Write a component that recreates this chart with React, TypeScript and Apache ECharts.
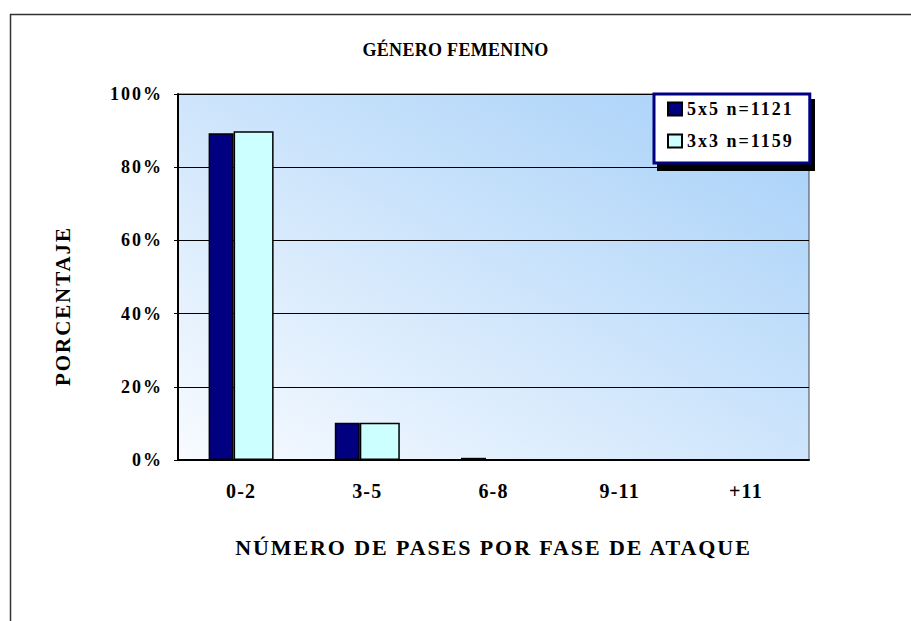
import React, { useEffect, useRef } from "react";
import * as echarts from "echarts";

const categories = ["0-2", "3-5", "6-8", "9-11", "+11"];
const values5x5 = [89.3, 10.2, 0.6, 0, 0];
const values3x3 = [89.8, 10.2, 0.2, 0, 0];
const seriesNames = ["5x5 n=1121", "3x3 n=1159"];
const titleText = "GÉNERO FEMENINO";
const xTitle = "NÚMERO DE PASES POR FASE DE ATAQUE";
const yTitle = "PORCENTAJE";

const FONT = "'Liberation Serif', 'Times New Roman', serif";

export default function App() {
  const ref = useRef<HTMLDivElement>(null);
  useEffect(() => {
    const el = ref.current!;
    const chart = echarts.init(el, null, { renderer: "svg" });
    const applySpacing = () => {
      el.querySelectorAll("text").forEach((t) => {
        const s = (t.textContent || "").trim();
        let ls = 2;
        if (s === titleText) ls = 0.3;
        else if (categories.includes(s)) ls = 1.2;
        else if (s === xTitle) ls = 1.9;
        else if (s === yTitle) ls = 1.9;
        t.setAttribute("letter-spacing", ls + "px");
      });
    };
    chart.on("finished", applySpacing);
    chart.setOption({
      animation: false,
      backgroundColor: "#ffffff",
      title: {
        text: titleText,
        left: "center",
        top: 41,
        padding: 0,
        textStyle: { fontFamily: FONT, fontWeight: "bold", fontSize: 18, color: "#000" },
      },
      grid: {
        left: 178,
        top: 94,
        right: 102,
        bottom: 161,
        show: true,
        borderColor: "#444",
        borderWidth: 1,
        backgroundColor: new echarts.graphic.LinearGradient(0, 1, 1, 0, [
          { offset: 0, color: "#f8fbff" },
          { offset: 1, color: "#a4cff8" },
        ]),
      },
      legend: {
        orient: "vertical",
        left: 654,
        top: 94,
        icon: "rect",
        itemWidth: 14,
        itemHeight: 13,
        itemGap: 14,
        padding: [6, 36, 13, 13],
        backgroundColor: "#ffffff",
        borderColor: "#000080",
        borderWidth: 3,
        textStyle: { fontFamily: FONT, fontWeight: "bold", fontSize: 18, color: "#000" },
        data: seriesNames,
      },
      xAxis: {
        type: "category",
        data: categories,
        axisLine: { lineStyle: { color: "#000", width: 2 } },
        axisTick: { inside: true, length: 7, lineStyle: { color: "#000" } },
        axisLabel: {
          margin: 21,
          fontFamily: FONT,
          fontWeight: "bold",
          fontSize: 20,
          color: "#000",
        },
        name: xTitle,
        nameLocation: "middle",
        nameGap: 76,
        nameTextStyle: { fontFamily: FONT, fontWeight: "bold", fontSize: 22, color: "#000" },
      },
      yAxis: {
        type: "value",
        min: 0,
        max: 100,
        interval: 20,
        axisLine: { show: true, lineStyle: { color: "#000", width: 2 } },
        axisTick: { show: true, length: 4, lineStyle: { color: "#000" } },
        axisLabel: {
          margin: 15,
          formatter: "{value}%",
          fontFamily: FONT,
          fontWeight: "bold",
          fontSize: 18,
          color: "#000",
        },
        splitLine: { show: true, lineStyle: { color: "#000", width: 1 } },
      },
      graphic: [
        {
          type: "rect",
          left: 8,
          top: 12,
          shape: { width: 1000, height: 700 },
          style: { fill: "none", stroke: "#333", lineWidth: 1.5 },
          z: 0,
        },
        {
          type: "rect",
          x: 657,
          y: 99,
          shape: { width: 158, height: 72 },
          style: { fill: "#000" },
          z: 1,
        },
        {
          type: "text",
          x: 63,
          y: 306,
          rotation: Math.PI / 2,
          style: {
            text: yTitle,
            fontFamily: FONT,
            fontWeight: "bold",
            fontSize: 21,
            fill: "#000",
            align: "center",
            verticalAlign: "middle",
          },
        },
      ],
      series: [
        {
          name: seriesNames[0],
          type: "bar",
          data: values5x5,
          barWidth: 25,
          barGap: "0%",
          itemStyle: { color: "#000080", borderColor: "#000", borderWidth: 1.5 },
        },
        {
          name: seriesNames[1],
          type: "bar",
          data: values3x3,
          barWidth: 40,
          barGap: "0%",
          itemStyle: { color: "#ccffff", borderColor: "#000", borderWidth: 1.5 },
        },
      ],
    });
    applySpacing();
    return () => chart.dispose();
  }, []);
  return (
    <div
      ref={ref}
      style={{ position: "absolute", left: 0, top: 0, width: 911, height: 621, background: "#fff" }}
    />
  );
}
